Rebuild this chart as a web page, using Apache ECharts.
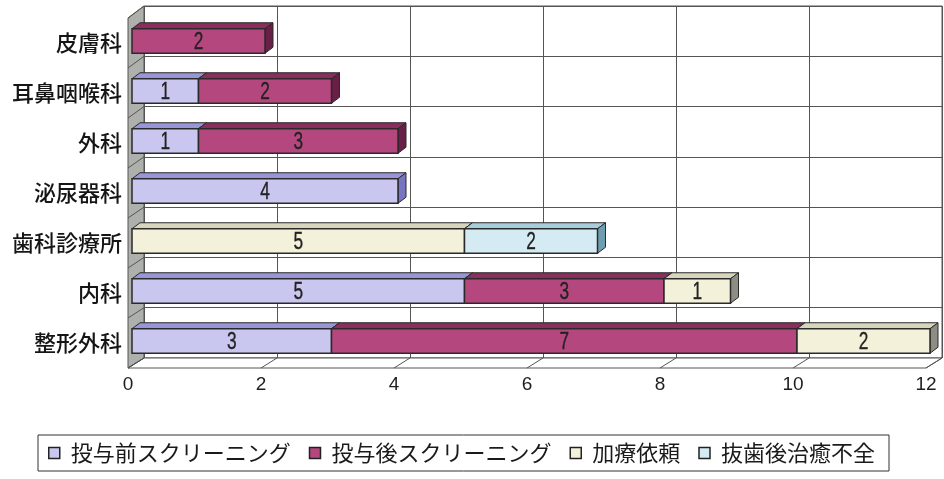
<!DOCTYPE html>
<html>
<head>
<meta charset="utf-8">
<script src="https://cdn.jsdelivr.net/npm/echarts@6/dist/echarts.min.js"></script>
<style>
  html, body { margin: 0; padding: 0; background: #fff; }
  #chart { width: 944px; height: 479px; }
</style>
</head>
<body>
<div id="chart"></div>
<script>
// Departments (top to bottom)
const categories = ['皮膚科', '耳鼻咽喉科', '外科', '泌尿器科', '歯科診療所', '内科', '整形外科'];

// Counts per series, one value per department
const preScreening  = [0, 1, 1, 4, 0, 5, 3];  // 投与前スクリーニング
const postScreening = [2, 2, 3, 0, 0, 3, 7];  // 投与後スクリーニング
const treatmentReq  = [0, 0, 0, 0, 5, 1, 2];  // 加療依頼
const poorHealing   = [0, 0, 0, 0, 2, 0, 0];  // 抜歯後治癒不全

const seriesNames = ['投与前スクリーニング', '投与後スクリーニング', '加療依頼', '抜歯後治癒不全'];
const seriesValues = [preScreening, postScreening, treatmentReq, poorHealing];

// Axis range / ticks
const xMin = 0, xMax = 12, xInterval = 2;

// Face colours: front, top, right side
const palette = [
  { front: '#c9c7f0', top: '#9896d6', side: '#7775c2' },
  { front: '#b5477f', top: '#8a2e5d', side: '#682046' },
  { front: '#f3f1da', top: '#d8d5bd', side: '#8d8d84' },
  { front: '#d5ebf3', top: '#a9cedb', side: '#6f9db0' }
];

// Stacked segments: [start, end, categoryIndex, value]
function buildSegments() {
  const out = seriesValues.map(() => []);
  categories.forEach((c, ci) => {
    let acc = 0;
    seriesValues.forEach((vals, si) => {
      const v = vals[ci];
      if (v > 0) {
        out[si].push([acc, acc + v, ci, v]);
        acc += v;
      }
    });
  });
  return out;
}
const segments = buildSegments();

const BAR_DX = 4, BAR_DY = -2;   // bar placement within the depth of the floor
const DEPTH_X = 8, DEPTH_Y = 6;  // extrusion of each bar
const NUM_FONT = '24px "Liberation Sans", Arial, sans-serif';
const JP_FONT = '"Noto Sans CJK JP", "Noto Sans CJK SC", sans-serif';

function renderBar(params, api) {
  const si = params.seriesIndex;
  const col = palette[si];
  const ci = api.value(2);
  const p0 = api.coord([api.value(0), ci]);
  const p1 = api.coord([api.value(1), ci]);
  const band = api.size([0, 1])[1];
  const h = band * 0.49;
  const x0 = p0[0] + BAR_DX, x1 = p1[0] + BAR_DX;
  const yc = p0[1] + BAR_DY;
  const yt = yc - h / 2, yb = yc + h / 2;
  const edge = '#2a2a2a';
  return {
    type: 'group',
    children: [
      {
        type: 'polygon',
        shape: { points: [[x0, yt], [x0 + DEPTH_X, yt - DEPTH_Y], [x1 + DEPTH_X, yt - DEPTH_Y], [x1, yt]] },
        style: { fill: col.top, stroke: edge, lineWidth: 1 }
      },
      {
        type: 'polygon',
        shape: { points: [[x1, yt], [x1 + DEPTH_X, yt - DEPTH_Y], [x1 + DEPTH_X, yb - DEPTH_Y], [x1, yb]] },
        style: { fill: col.side, stroke: edge, lineWidth: 1 }
      },
      {
        type: 'rect',
        shape: { x: x0, y: yt, width: x1 - x0, height: h },
        style: { fill: col.front, stroke: edge, lineWidth: 1.5 }
      },
      {
        // value label, narrowed horizontally
        type: 'text',
        x: (x0 + x1) / 2, y: yc + 1.5,
        scaleX: 0.72, scaleY: 1,
        style: {
          x: 0, y: 0,
          text: String(api.value(3)),
          align: 'center', verticalAlign: 'middle',
          fill: '#222', stroke: '#222', lineWidth: 0.35, font: NUM_FONT
        }
      }
    ]
  };
}

const chart = echarts.init(document.getElementById('chart'), null, { renderer: 'canvas' });

const option = {
  backgroundColor: '#ffffff',
  animation: false,
  grid: [
    // front plane: axis labels and bars
    { left: 128, right: 18, top: 18, bottom: 111, show: false },
    // back wall
    { left: 144, right: 2, top: 6, bottom: 121, show: true, borderColor: '#555', borderWidth: 1, backgroundColor: '#fff' }
  ],
  xAxis: [
    {
      gridIndex: 0, type: 'value', min: xMin, max: xMax, interval: xInterval,
      axisLine: { show: false }, axisTick: { show: false }, splitLine: { show: false },
      axisLabel: { margin: 7, color: '#1e1e1e', fontSize: 19, fontFamily: '"Liberation Sans Narrow", "Liberation Sans", sans-serif' }
    },
    {
      gridIndex: 1, type: 'value', min: xMin, max: xMax, interval: xInterval,
      axisLine: { show: false }, axisTick: { show: false }, axisLabel: { show: false },
      splitLine: { show: true, lineStyle: { color: '#555', width: 1 } }
    }
  ],
  yAxis: [
    {
      gridIndex: 0, type: 'category', data: categories, inverse: true,
      axisLine: { show: false }, axisTick: { show: false }, splitLine: { show: false },
      axisLabel: { margin: 6, color: '#151515', fontSize: 22, fontWeight: 500, fontFamily: JP_FONT }
    },
    {
      gridIndex: 1, type: 'category', data: categories, inverse: true,
      axisLine: { show: false }, axisTick: { show: false }, axisLabel: { show: false },
      splitLine: { show: true, interval: 0, lineStyle: { color: '#555', width: 1 } }
    }
  ],
  legend: {
    left: 38, top: 435,
    orient: 'horizontal',
    padding: [7, 14, 7, 10],
    borderColor: '#333', borderWidth: 1,
    itemWidth: 11, itemHeight: 11, itemGap: 18,
    textStyle: { fontSize: 22, color: '#1a1a1a', fontFamily: JP_FONT, padding: [0, 0, 0, 6] },
    data: seriesNames.map((n, i) => ({
      name: n, icon: 'rect',
      itemStyle: { color: palette[i].front, borderColor: '#222', borderWidth: 1.5 }
    }))
  },
  series: seriesNames.map((name, i) => ({
    name,
    type: 'custom',
    xAxisIndex: 0, yAxisIndex: 0,
    z: 5,
    itemStyle: { color: palette[i].front },
    renderItem: renderBar,
    encode: { x: [0, 1], y: 2 },
    data: segments[i]
  }))
};

chart.setOption(option);

// Floor, side wall and the diagonal lines joining the front plane to the back wall
function frontPt(v, c) { return chart.convertToPixel({ xAxisIndex: 0, yAxisIndex: 0 }, [v, c]); }
function backPt(v, c) { return chart.convertToPixel({ xAxisIndex: 1, yAxisIndex: 1 }, [v, c]); }

const fr = chart.getModel().getComponent('grid', 0).coordinateSystem.getRect();
const bk = chart.getModel().getComponent('grid', 1).coordinateSystem.getRect();
const frXAxis = v => frontPt(v, 0)[0];
const bkXAxis = v => backPt(v, 0)[0];

const graphics = [];
// left wall
graphics.push({
  type: 'polygon', z: 1,
  shape: { points: [[fr.x, fr.y], [bk.x, bk.y], [bk.x, bk.y + bk.height], [fr.x, fr.y + fr.height]] },
  style: { fill: '#aeb0ac', stroke: '#555', lineWidth: 1 }
});
// floor
graphics.push({
  type: 'polygon', z: 1,
  shape: { points: [[fr.x, fr.y + fr.height], [fr.x + fr.width, fr.y + fr.height], [bk.x + bk.width, bk.y + bk.height], [bk.x, bk.y + bk.height]] },
  style: { fill: '#ffffff', stroke: '#555', lineWidth: 1 }
});
// floor grid lines at each tick
for (let v = xMin; v <= xMax; v += xInterval) {
  graphics.push({
    type: 'line', z: 2,
    shape: { x1: frXAxis(v), y1: fr.y + fr.height, x2: bkXAxis(v), y2: bk.y + bk.height },
    style: { stroke: '#555', lineWidth: 1 }
  });
}
// wall lines at each category boundary
const n = categories.length;
for (let k = 0; k <= n; k++) {
  const yf = fr.y + fr.height * k / n;
  const yb = bk.y + bk.height * k / n;
  graphics.push({
    type: 'line', z: 2,
    shape: { x1: fr.x, y1: yf, x2: bk.x, y2: yb },
    style: { stroke: '#555', lineWidth: 1 }
  });
}
chart.setOption({ graphic: graphics });
</script>
</body>
</html>
